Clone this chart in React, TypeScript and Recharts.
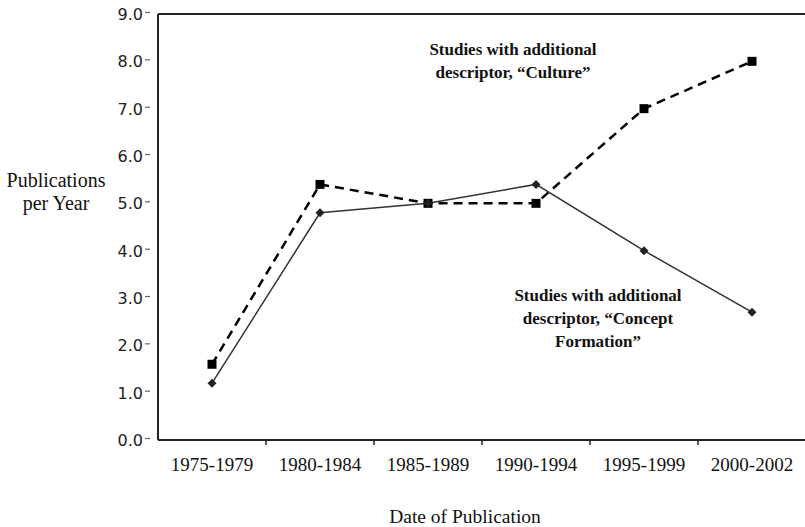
import { LineChart, Line, XAxis, YAxis, ReferenceLine, Customized } from "recharts";

const categories = ["1975-1979", "1980-1984", "1985-1989", "1990-1994", "1995-1999", "2000-2002"];
const culture = [1.6, 5.4, 5.0, 5.0, 7.0, 8.0];
const conceptFormation = [1.2, 4.8, 5.0, 5.4, 4.0, 2.7];
const yTicks = [0, 1, 2, 3, 4, 5, 6, 7, 8, 9];

const data = categories.map((label, i) => ({
  x: i + 0.5,
  label,
  culture: culture[i],
  concept: conceptFormation[i],
}));

// label ticks sit on the band centres, tick marks on the band edges
const xTicks = categories.flatMap((_, i) => (i === 0 ? [i + 0.5] : [i, i + 0.5]));

const serif = "'Liberation Serif', 'Times New Roman', serif";

function XTick({ x, y, payload }: any) {
  const v = payload.value as number;
  if (Number.isInteger(v)) {
    return <line x1={x} x2={x} y1={y} y2={y + 5} stroke="#222" strokeWidth={1.5} />;
  }
  const label = categories[Math.floor(v)];
  return (
    <text x={x} y={y + 31} textAnchor="middle" fontFamily={serif} fontSize={19} fill="#111">
      {label}
    </text>
  );
}

function YTick({ x, y, payload }: any) {
  return (
    <g>
      <text x={x - 15} y={y + 6} textAnchor="end" fontFamily="'DejaVu Sans', sans-serif" fontSize={16} fill="#222">
        {Number(payload.value).toFixed(1)}
      </text>
      <line x1={x - 13} x2={x - 8} y1={y - 1.5} y2={y - 1.5} stroke="#666" strokeWidth={1.2} />
    </g>
  );
}

function SquareDot({ cx, cy }: any) {
  return <rect x={cx - 4.5} y={cy - 4.5} width={9} height={9} fill="#000" />;
}

function DiamondDot({ cx, cy }: any) {
  return <polygon points={`${cx},${cy - 4.5} ${cx + 4.5},${cy} ${cx},${cy + 4.5} ${cx - 4.5},${cy}`} fill="#222" />;
}

function Annotations() {
  return (
    <g fontFamily={serif} fill="#111">
      <text x={513} y={55} textAnchor="middle" fontSize={17} fontWeight="bold">Studies with additional</text>
      <text x={513} y={78} textAnchor="middle" fontSize={17} fontWeight="bold">descriptor, “Culture”</text>
      <text x={598} y={301} textAnchor="middle" fontSize={17} fontWeight="bold">Studies with additional</text>
      <text x={598} y={324} textAnchor="middle" fontSize={17} fontWeight="bold">descriptor, “Concept</text>
      <text x={598} y={347} textAnchor="middle" fontSize={17} fontWeight="bold">Formation”</text>
      <text x={56} y={187} textAnchor="middle" fontSize={20}>Publications</text>
      <text x={56} y={210} textAnchor="middle" fontSize={20}>per Year</text>
      <text x={465} y={523} textAnchor="middle" fontSize={19.5}>Date of Publication</text>
    </g>
  );
}

export default function App() {
  return (
    <div style={{ position: "absolute", left: 0, top: 0, width: 805, height: 527, overflow: "hidden", background: "#fff" }}>
      <LineChart width={807} height={527} data={data} margin={{ top: 14, right: 1, bottom: 0, left: 0 }}>
        <XAxis
          dataKey="x"
          type="number"
          domain={[0, 6]}
          ticks={xTicks}
          interval={0}
          tick={<XTick />}
          tickLine={false}
          tickSize={0}
          tickMargin={0}
          height={87}
          axisLine={{ stroke: "#222", strokeWidth: 2 }}
        />
        <YAxis
          type="number"
          domain={[0, 9]}
          ticks={yTicks}
          interval={0}
          tick={<YTick />}
          tickLine={false}
          tickSize={0}
          tickMargin={0}
          width={158}
          axisLine={{ stroke: "#222", strokeWidth: 2 }}
        />
        <ReferenceLine y={9} stroke="#222" strokeWidth={2} />
        <ReferenceLine x={6} stroke="#222" strokeWidth={2} />
        <Line
          dataKey="culture"
          stroke="#000"
          strokeWidth={2.5}
          strokeDasharray="9 6"
          dot={<SquareDot />}
          activeDot={false}
          isAnimationActive={false}
        />
        <Line
          dataKey="concept"
          stroke="#333"
          strokeWidth={1.5}
          dot={<DiamondDot />}
          activeDot={false}
          isAnimationActive={false}
        />
        <Customized component={<Annotations />} />
      </LineChart>
    </div>
  );
}
